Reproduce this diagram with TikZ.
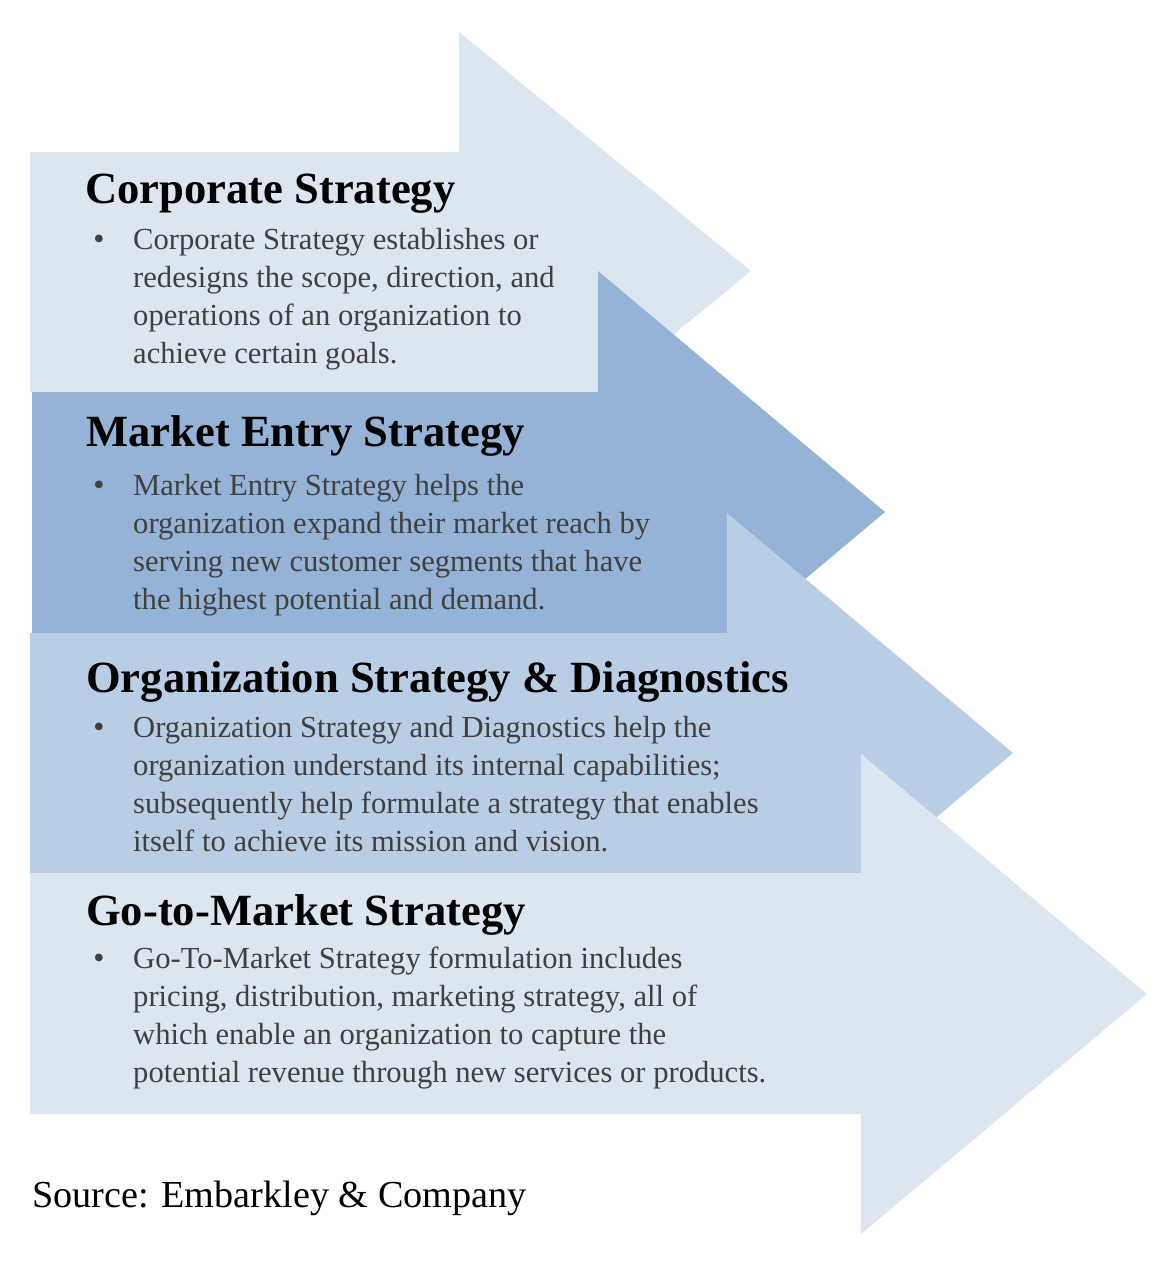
\documentclass[tikz,border=0pt]{standalone}
\usepackage{fontspec}
\setmainfont{Liberation Serif}
\definecolor{paleblue}{HTML}{DCE6F1}
\definecolor{midblue}{HTML}{95B3D7}
\definecolor{softblue}{HTML}{B9CDE5}
\definecolor{bodygray}{HTML}{404040}
\tikzset{
  titletext/.style={anchor=base west, inner sep=0pt, text=black, font=\fontsize{44.6}{48}\selectfont\bfseries},
  bullettext/.style={anchor=base, inner sep=0pt, text=bodygray, font=\fontsize{32}{38}\selectfont},
  bodytext/.style={anchor=base west, inner sep=0pt, text=bodygray, font=\fontsize{30.6}{38}\selectfont},
  sourcetext/.style={anchor=base west, inner sep=0pt, text=black, font=\fontsize{38.2}{42}\selectfont}
}
\newcommand{\bodylines}[1]{\parbox[t]{760pt}{\fontsize{30.6}{38}\selectfont #1}}
\begin{document}
\begin{tikzpicture}[x=1pt,y=-1pt]
\useasboundingbox (0,0) rectangle (1170,1262);
% arrows (later ones drawn on top)
\fill[paleblue] (30,152) -- (459,152) -- (459,32) -- (751,271) -- (459,510) -- (459,392) -- (30,392) -- cycle;
\fill[midblue] (32,392) -- (598,392) -- (598,271) -- (885,512) -- (598,753) -- (598,633) -- (32,633) -- cycle;
\fill[softblue] (30,633) -- (727,633) -- (727,513) -- (1013,753) -- (727,993) -- (727,873) -- (30,873) -- cycle;
\fill[paleblue] (30,873) -- (861,873) -- (861,754) -- (1147,994) -- (861,1234) -- (861,1114) -- (30,1114) -- cycle;

% Corporate Strategy
\node[titletext] (t1) at (85,203) {Corporate Strategy};
\node[bullettext] (b1) at (99,249) {•};
\node[bodytext] (d1) at (133,249) {\bodylines{Corporate Strategy establishes or\\redesigns the scope, direction, and\\operations of an organization to\\achieve certain goals.}};

% Market Entry Strategy
\node[titletext] (t2) at (86,446) {Market Entry Strategy};
\node[bullettext] (b2) at (99,495) {•};
\node[bodytext] (d2) at (133,495) {\bodylines{Market Entry Strategy helps the\\organization expand their market reach by\\serving new customer segments that have\\the highest potential and demand.}};

% Organization Strategy & Diagnostics
\node[titletext] (t3) at (86,692) {Organization Strategy \& Diagnostics};
\node[bullettext] (b3) at (99,737) {•};
\node[bodytext] (d3) at (133,737) {\bodylines{Organization Strategy and Diagnostics help the\\organization understand its internal capabilities;\\subsequently help formulate a strategy that enables\\itself to achieve its mission and vision.}};

% Go-to-Market Strategy
\node[titletext] (t4) at (86,925) {Go-to-Market Strategy};
\node[bullettext] (b4) at (99,968) {•};
\node[bodytext] (d4) at (133,968) {\bodylines{Go-To-Market Strategy formulation includes\\pricing, distribution, marketing strategy, all of\\which enable an organization to capture the\\potential revenue through new services or products.}};

% Source
\node[sourcetext] (src) at (32,1207) {Source: Embarkley \& Company};
\end{tikzpicture}
\end{document}
